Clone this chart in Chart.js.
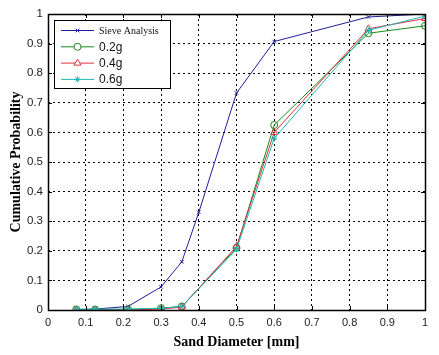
<!DOCTYPE html>
<html>
<head>
<meta charset="utf-8">
<script src="https://cdn.jsdelivr.net/npm/chart.js@4.4.0/dist/chart.umd.min.js"></script>
<style>
  html, body { margin: 0; padding: 0; background: #fff; }
  #wrap { width: 439px; height: 355px; }
</style>
</head>
<body>
<div id="wrap"><canvas id="chart" width="439" height="355"></canvas></div>
<script>
// sieve sizes (mm) and cumulative probabilities
const sieveSizes = [0.075, 0.125, 0.212, 0.3, 0.355, 0.4, 0.5, 0.6, 0.85, 1.0];
const sieveValues = [0, 0.003, 0.012, 0.078, 0.163, 0.33, 0.733, 0.907, 0.99, 1.0];

const testSizes = [0.075, 0.125, 0.212, 0.3, 0.355, 0.5, 0.6, 0.85, 1.0];
const values02 = [0.002, 0.002, 0.002, 0.006, 0.012, 0.21, 0.625, 0.935, 0.96];
const values04 = [0, 0, 0, 0.003, 0.01, 0.215, 0.6, 0.95, 0.985];
const values06 = [0.003, 0.003, 0.003, 0.006, 0.012, 0.205, 0.58, 0.945, 0.993];

const xTicks = [0, 0.1, 0.2, 0.3, 0.4, 0.5, 0.6, 0.7, 0.8, 0.9, 1];
const yTicks = [0, 0.1, 0.2, 0.3, 0.4, 0.5, 0.6, 0.7, 0.8, 0.9, 1];

const toPoints = (xs, ys) => xs.map((x, i) => ({ x: x, y: ys[i] }));

const series = [
  { label: 'Sieve Analysis', data: toPoints(sieveSizes, sieveValues), color: '#1f1f9a', style: 'crossRot', radius: 2.5, font: '10px "Liberation Serif"' },
  { label: '0.2g', data: toPoints(testSizes, values02), color: '#1a8a1a', style: 'circle', radius: 3.5, font: '12px "Liberation Sans"' },
  { label: '0.4g', data: toPoints(testSizes, values04), color: '#e0303a', style: 'triangle', radius: 4, font: '12px "Liberation Sans"' },
  { label: '0.6g', data: toPoints(testSizes, values06), color: '#20b8b8', style: 'star', radius: 3, font: '12px "Liberation Sans"' }
];

// frame, inward ticks and the boxed legend, drawn like the MATLAB figure
const matlabFrame = {
  id: 'matlabFrame',
  afterDraw(chart) {
    const { ctx, chartArea: a, scales } = chart;
    ctx.save();
    ctx.strokeStyle = '#000';
    ctx.lineWidth = 1;
    ctx.setLineDash([]);
    ctx.beginPath();
    xTicks.forEach(v => {
      const px = Math.round(scales.x.getPixelForValue(v)) + 0.5;
      ctx.moveTo(px, a.bottom); ctx.lineTo(px, a.bottom - 4);
      ctx.moveTo(px, a.top); ctx.lineTo(px, a.top + 4);
    });
    yTicks.forEach(v => {
      const py = Math.round(scales.y.getPixelForValue(v)) + 0.5;
      ctx.moveTo(a.left, py); ctx.lineTo(a.left + 4, py);
      ctx.moveTo(a.right, py); ctx.lineTo(a.right - 4, py);
    });
    ctx.stroke();
    ctx.lineWidth = 1.5;
    ctx.strokeRect(Math.round(a.left) + 0.5, Math.round(a.top) + 0.5,
      Math.round(a.right - a.left), Math.round(a.bottom - a.top));

    // legend box
    const lx = a.left + 6, ly = a.top + 6, lw = 116, lh = 68;
    ctx.fillStyle = '#fff';
    ctx.fillRect(lx, ly, lw, lh);
    ctx.lineWidth = 1;
    ctx.strokeRect(lx + 0.5, ly + 0.5, lw, lh);
    series.forEach((s, i) => {
      const yy = ly + 10.5 + i * 16.3;
      ctx.strokeStyle = s.color;
      ctx.lineWidth = 1;
      ctx.beginPath();
      ctx.moveTo(lx + 7, yy); ctx.lineTo(lx + 40, yy);
      ctx.stroke();
      ctx.fillStyle = s.style === 'star' ? s.color : '#fff';
      Chart.helpers.drawPoint(ctx, { pointStyle: s.style, radius: s.radius, borderWidth: 1, rotation: 0 }, lx + 23.5, yy);
      ctx.fillStyle = '#111';
      ctx.font = s.font;
      ctx.textBaseline = 'middle';
      ctx.textAlign = 'left';
      ctx.fillText(s.label, lx + 45, yy + 0.5);
    });
    ctx.restore();
  }
};

new Chart(document.getElementById('chart').getContext('2d'), {
  type: 'scatter',
  data: {
    datasets: series.map((s, i) => ({
      label: s.label,
      data: s.data,
      showLine: true,
      tension: 0,
      borderColor: s.color,
      backgroundColor: s.style === 'star' ? s.color : 'rgba(0,0,0,0)',
      borderWidth: 1,
      pointStyle: s.style,
      pointRadius: s.radius,
      pointBorderWidth: 1,
      pointBorderColor: s.color,
      order: 4 - i
    }))
  },
  options: {
    responsive: false,
    animation: false,
    layout: { padding: { top: 14, right: 14, left: 4, bottom: 0 } },
    plugins: { legend: { display: false }, tooltip: { enabled: false } },
    scales: {
      x: {
        type: 'linear', min: 0, max: 1,
        afterBuildTicks: s => { s.ticks = xTicks.map(v => ({ value: v })); },
        afterFit: s => { s.height = 45; },
        grid: { color: '#000', lineWidth: 1, drawTicks: false },
        border: { display: false, dash: [2, 3] },
        ticks: {
          padding: 6, color: '#222', maxRotation: 0,
          font: { family: 'Liberation Sans', size: 11 },
          callback: v => String(v)
        },
        title: {
          display: true, text: 'Sand Diameter [mm]', color: '#000', padding: { top: 4 },
          font: { family: 'Liberation Serif', size: 14, weight: 'bold' }
        }
      },
      y: {
        type: 'linear', min: 0, max: 1,
        afterBuildTicks: s => { s.ticks = yTicks.map(v => ({ value: v })); },
        afterFit: s => { s.width = 44; },
        grid: { color: '#000', lineWidth: 1, drawTicks: false },
        border: { display: false, dash: [2, 3] },
        ticks: {
          padding: 5, color: '#222',
          font: { family: 'Liberation Sans', size: 11.5 },
          callback: v => String(v)
        },
        title: {
          display: true, text: 'Cumulative Probability', color: '#000', padding: { bottom: 0 },
          font: { family: 'Liberation Serif', size: 14, weight: 'bold' }
        }
      }
    }
  },
  plugins: [matlabFrame]
});
</script>
</body>
</html>
